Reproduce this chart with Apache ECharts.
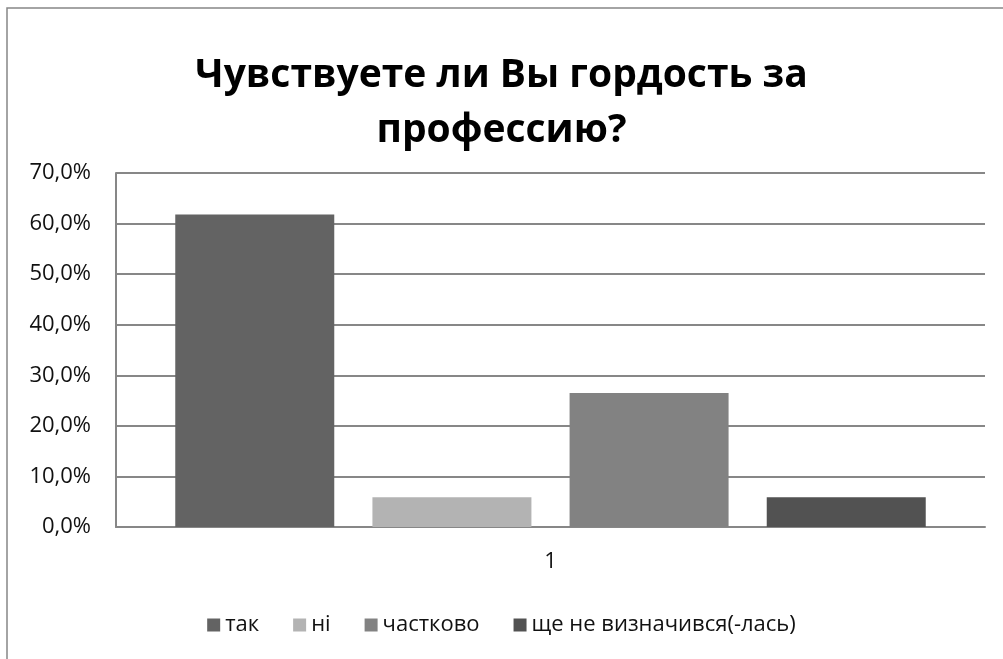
<!DOCTYPE html>
<html>
<head>
<meta charset="utf-8">
<script src="https://cdn.jsdelivr.net/npm/echarts@6/dist/echarts.min.js"></script>
<style>
html,body{margin:0;padding:0;background:#fff;}
#c{width:1003px;height:659px;}
</style>
</head>
<body>
<div id="c"></div>
<script>
const titleText = "Чувствуете ли Вы гордость за\nпрофессию?";
const categories = ["1"];
const seriesNames = ["так", "ні", "частково", "ще не визначився(-лась)"];
const seriesValues = [[61.8], [5.9], [26.5], [5.9]];
const seriesColors = ["#636363", "#b3b3b3", "#828282", "#525252"];
const yTicks = { min: 0, max: 70, interval: 10 };

const chart = echarts.init(document.getElementById('c'), null, {renderer: 'canvas'});
const font = "'Open Sans', 'Noto Sans', sans-serif";
const option = {
  animation: false,
  backgroundColor: '#fff',
  graphic: [{
    type: 'rect', shape: {x: 7, y: 8, width: 1200, height: 1000},
    style: {fill: 'none', stroke: '#878787', lineWidth: 1.5}, silent: true, z: -1
  }],
  title: {
    text: titleText, left: 'center', top: 43,
    textStyle: {fontFamily: font, fontWeight: 'bold', fontSize: 39, color: '#000', lineHeight: 55}
  },
  legend: {
    top: 609, left: 'center', itemWidth: 13, itemHeight: 13, itemGap: 34,
    icon: 'rect',
    textStyle: {fontFamily: font, fontSize: 22, color: '#111'},
    data: seriesNames
  },
  grid: {left: 116, right: 18, top: 173, bottom: 132, containLabel: false},
  xAxis: {
    type: 'category', data: categories,
    axisLine: {show: true, lineStyle: {color: '#878787', width: 2}},
    axisTick: {show: false},
    axisLabel: {fontFamily: font, fontSize: 22, color: '#111', margin: 24}
  },
  yAxis: {
    type: 'value', min: yTicks.min, max: yTicks.max, interval: yTicks.interval,
    axisLine: {show: true, lineStyle: {color: '#878787', width: 2}},
    axisTick: {show: false},
    splitLine: {show: true, lineStyle: {color: '#878787', width: 2}},
    axisLabel: {
      fontFamily: font, fontSize: 22, color: '#111', margin: 25,
      formatter: v => v.toFixed(1).replace('.', ',') + '%'
    }
  },
  series: seriesNames.map((n, i) => ({
    name: n, type: 'bar', data: seriesValues[i],
    barWidth: 159, barGap: '24%',
    itemStyle: {color: seriesColors[i]}
  }))
};
chart.setOption(option);
</script>
</body>
</html>
